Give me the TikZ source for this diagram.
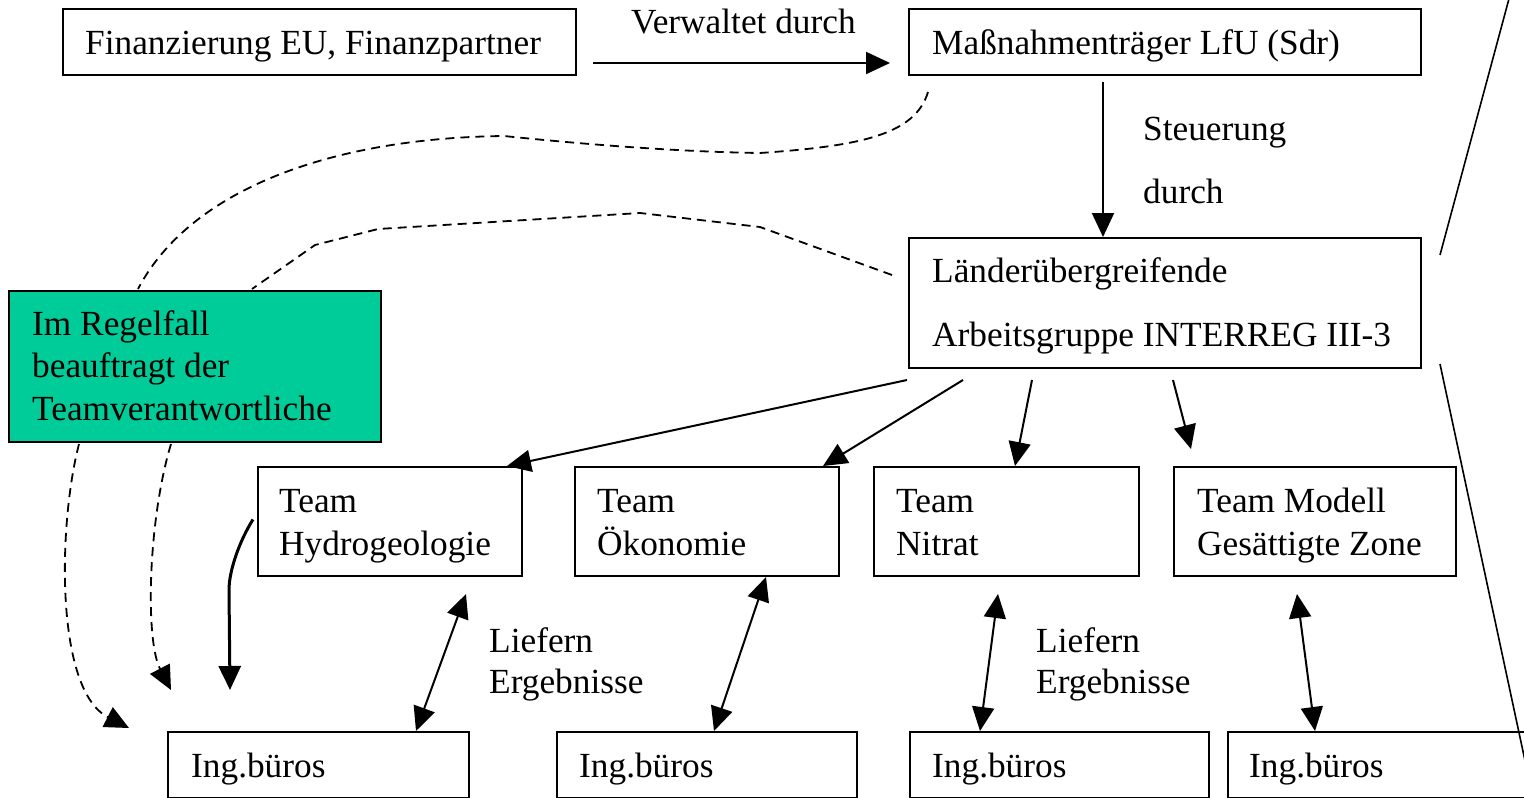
\documentclass[tikz,border=0pt]{standalone}
\usepackage{fontspec}
\setmainfont{Liberation Serif}
\usetikzlibrary{arrows.meta,calc}
\definecolor{boxgreen}{HTML}{00CC99}
\tikzset{
  box/.style={draw, line width=2pt, inner sep=0pt, anchor=north west},
  txt/.style={font=\fontsize{35.3}{42}\selectfont, inner sep=0pt, anchor=base west},
  tip/.style={Triangle[length=24pt,width=22pt]},
  arr/.style={line width=2pt, -{Triangle[length=24pt,width=22pt]}},
  darr/.style={line width=2pt, {Triangle[length=24pt,width=22pt]}-{Triangle[length=24pt,width=22pt]}},
  dsh/.style={line width=1.8pt, dash pattern=on 9pt off 6pt},
  darrow/.style={dsh, -{Triangle[length=24pt,width=22pt]}},
  plain/.style={line width=1.6pt}
}
\begin{document}
\begin{tikzpicture}[x=1pt,y=-1pt]
\useasboundingbox (0,0) rectangle (1524,798);
\clip (0,0) rectangle (1524,798);
\fill[white] (0,0) rectangle (1524,798);

% boxes
\node[box, minimum width=513pt, minimum height=66pt] (fin) at (62,8) {};
\node[box, minimum width=512pt, minimum height=66pt] (mass) at (908,8) {};
\node[box, minimum width=512pt, minimum height=130pt] (lag) at (908,237) {};
\node[box, fill=boxgreen, minimum width=372pt, minimum height=151pt] (regel) at (8,290) {};
\node[box, minimum width=264pt, minimum height=109pt] (hyd) at (257,466) {};
\node[box, minimum width=264pt, minimum height=109pt] (oek) at (574,466) {};
\node[box, minimum width=265pt, minimum height=109pt] (nit) at (873,466) {};
\node[box, minimum width=282pt, minimum height=109pt] (mod) at (1173,466) {};
\node[box, minimum width=301pt, minimum height=66pt] (ing1) at (167,731) {};
\node[box, minimum width=300pt, minimum height=66pt] (ing2) at (556,731) {};
\node[box, minimum width=299pt, minimum height=66pt] (ing3) at (909,731) {};
\node[box, minimum width=340pt, minimum height=66pt] (ing4) at (1227,731) {};

% texts
\node[txt] (tfin) at (85,54) {Finanzierung EU, Finanzpartner};
\node[txt] (tverw) at (631,33) {Verwaltet durch};
\node[txt] (tmass) at (932,54) {Maßnahmenträger LfU (Sdr)};
\node[txt] (tsteu) at (1143,140) {Steuerung};
\node[txt] (tdurch) at (1143,203) {durch};
\node[txt] (tlag1) at (932,282) {Länderübergreifende};
\node[txt] (tlag2) at (932,346) {Arbeitsgruppe INTERREG III-3};
\node[txt] (treg1) at (32,335) {Im Regelfall};
\node[txt] (treg2) at (32,377) {beauftragt der};
\node[txt] (treg3) at (32,420) {Teamverantwortliche};
\node[txt] (thyd1) at (279,512) {Team};
\node[txt] (thyd2) at (279,555) {Hydrogeologie};
\node[txt] (toek1) at (597,512) {Team};
\node[txt] (toek2) at (597,555) {Ökonomie};
\node[txt] (tnit1) at (896,512) {Team};
\node[txt] (tnit2) at (896,555) {Nitrat};
\node[txt] (tmod1) at (1197,512) {Team Modell};
\node[txt] (tmod2) at (1197,555) {Gesättigte Zone};
\node[txt] (tlie1) at (489,652) {Liefern};
\node[txt] (terg1) at (489,693) {Ergebnisse};
\node[txt] (tlie2) at (1036,652) {Liefern};
\node[txt] (terg2) at (1036,693) {Ergebnisse};
\node[txt] (ting1) at (191,777) {Ing.büros};
\node[txt] (ting2) at (579,777) {Ing.büros};
\node[txt] (ting3) at (932,777) {Ing.büros};
\node[txt] (ting4) at (1249,777) {Ing.büros};

% solid arrows
\draw[arr] ($(fin.south east)+(16,-13)$) -- ($(mass.south west)+(-18,-13)$);
\draw[arr] ($(mass.south west)+(195,6)$) -- ($(lag.north west)+(195,0)$);
\draw[arr] ($(lag.south west)+(-1,11)$) -- ($(hyd.north east)+(-16,0)$);
\draw[arr] ($(lag.south west)+(55,11)$) -- ($(oek.north east)+(-17,0)$);
\draw[arr] ($(lag.south west)+(124,11)$) -- ($(nit.north west)+(142,0)$);
\draw[arr] ($(lag.south west)+(265,11)$) -- ($(mod.north west)+(18,-17)$);

% double arrows
\draw[darr] ($(hyd.south west)+(209,17)$) -- ($(ing1.north west)+(249,0)$);
\draw[darr] ($(oek.south west)+(192,0)$) -- ($(ing2.north west)+(158,0)$);
\draw[darr] ($(nit.south west)+(125,17)$) -- ($(ing3.north west)+(71,0)$);
\draw[darr] ($(mod.south west)+(124,17)$) -- ($(ing4.north west)+(88,0)$);

% curved solid arrow
\draw[line width=3pt, -{Triangle[length=24pt,width=22pt]}] ($(hyd.west)+(-4,-2)$) .. controls (240,540) and (229,570) .. (229,590) -- ($(ing1.north west)+(63,-41)$);

% dashed arrows from green box
\draw[darrow] ($(regel.south west)+(71,1)$) .. controls (58,525) and (55,690) .. ($(ing1.north west)+(-38,-3)$);
\draw[darrow] ($(regel.south west)+(163,1)$) .. controls (148,520) and (145,640) .. ($(ing1.north west)+(4,-41)$);

% dashed connections to the top
\draw[dsh] ($(mass.south west)+(20,16)$) .. controls (915,135) and (860,146) .. (760,153)
  .. controls (690,152) and (600,146) .. (504,136)
  .. controls (330,138) and (190,190) .. ($(regel.north west)+(130,-1)$);
\draw[dsh] ($(lag.north west)+(-16,38)$) -- (760,227) -- (640,213) -- (378,229) -- (315,245) -- ($(regel.north west)+(244,-1)$);

% diagonal lines at the right
\coordinate (dtop) at (1510,-5);
\coordinate (dbot) at (1533,798);
\draw[plain] ($(lag.north east)+(18,18)$) -- (dtop);
\draw[plain] ($(lag.south east)+(18,-5)$) -- (dbot);
\end{tikzpicture}
\end{document}
